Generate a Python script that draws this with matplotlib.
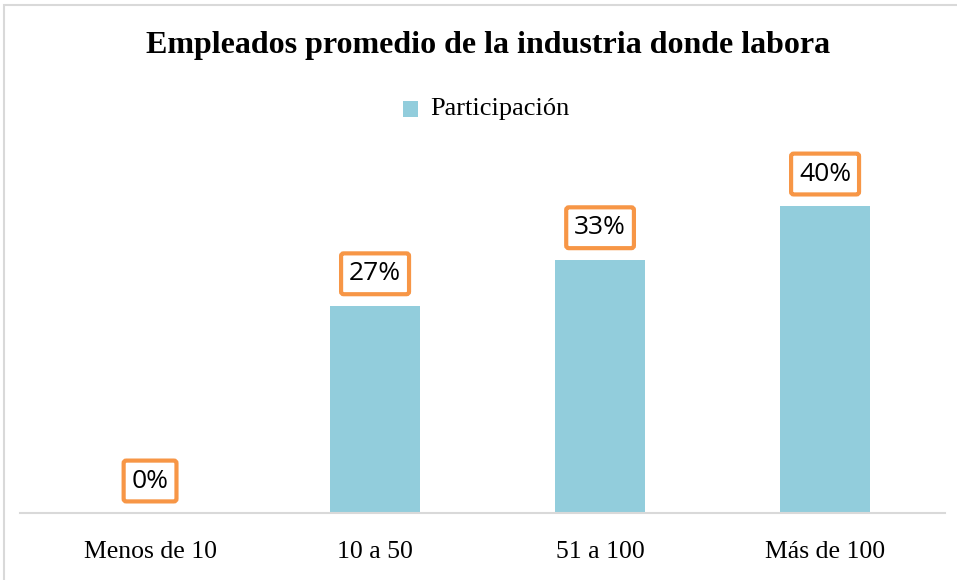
import matplotlib.pyplot as plt
from matplotlib.patches import Rectangle

# --- Data ---
categories = ["Menos de 10", "10 a 50", "51 a 100", "Más de 100"]
participacion = [0, 27, 33, 40]
value_labels = ["0%", "27%", "33%", "40%"]

W, H = 957, 580
fig = plt.figure(figsize=(W / 100, H / 100), dpi=100)

# chart border (light gray, partly cut off like the screenshot)
fig.patches.append(Rectangle((4 / W, -0.05), 1.2, 1 - 5 / H + 0.05,
                             transform=fig.transFigure, fill=False,
                             edgecolor="#D9D9D9", linewidth=1.5))

# plot area in pixels: x 20..945, baseline y=513, top y=150
ax = fig.add_axes([20 / W, (H - 513) / H, 925 / W, (513 - 150) / H])
x = list(range(len(categories)))
ax.bar(x, participacion, width=0.4, color="#92CDDC", zorder=2)

ax.set_xlim(-0.578, 3.533)
ax.set_ylim(0, 47.3)
for s in ["top", "right", "left"]:
    ax.spines[s].set_visible(False)
ax.spines["bottom"].set_color("#D9D9D9")
ax.spines["bottom"].set_linewidth(1.5)
ax.set_yticks([])
ax.set_xticks(x)
ax.set_xticklabels(categories, fontfamily="Liberation Serif", fontsize=18.5)
ax.tick_params(axis="x", length=0, pad=20)

# value labels in orange-bordered boxes
for xi, v, lab in zip(x, participacion, value_labels):
    ax.annotate(lab, (xi, v), xytext=(0, 32), textcoords="offset pixels",
                ha="center", va="center", fontsize=19, fontfamily="Open Sans",
                bbox=dict(boxstyle="round,pad=0.3,rounding_size=0.1",
                          facecolor="white", edgecolor="#F79646", linewidth=3),
                zorder=3)

fig.text(488 / W, 1 - 45 / H, "Empleados promedio de la industria donde labora",
         ha="center", va="center", fontsize=23, fontweight="bold",
         fontfamily="Liberation Serif")

# legend
fig.patches.append(Rectangle((403 / W, 1 - 117 / H), 15 / W, 16 / H,
                             transform=fig.transFigure, facecolor="#92CDDC",
                             edgecolor="none"))
fig.text(430 / W, 1 - 109 / H, "Participación", ha="left", va="center",
         fontsize=19, fontfamily="Liberation Serif")

fig.savefig("out.png", dpi=100)
